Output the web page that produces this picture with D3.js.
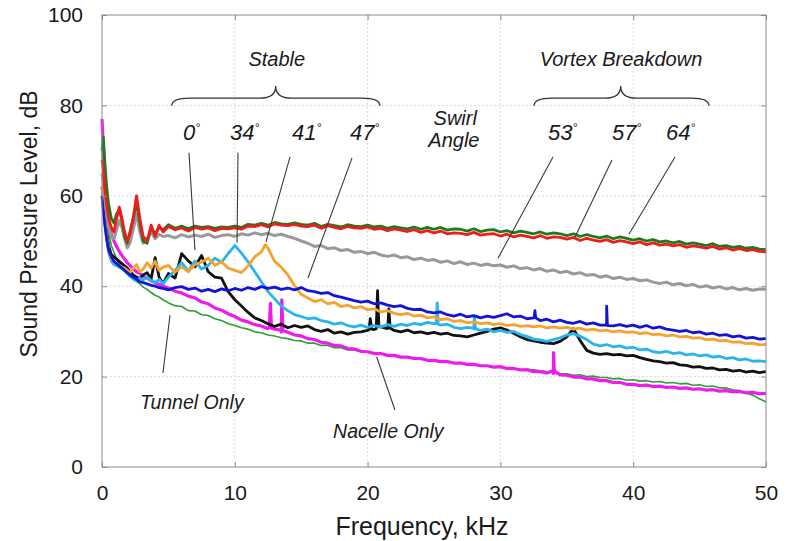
<!DOCTYPE html>
<head>
  <meta charset="UTF-8" />
  <title>Sound pressure spectra vs swirl angle</title>
  <script src="https://d3js.org/d3.v7.min.js"></script>
  <style>
    body {
      margin: 0;
      background: #fff;
    }
    text {
      font-family: "Liberation Sans", Arial, Helvetica, sans-serif;
      fill: #1a1a1a;
    }
  </style>
</head>

<body>
  <script>
    var width = 787,
      height = 541;
    var margin = { top: 15, right: 21, bottom: 74, left: 102 };

    // frequency bins, kHz (fine steps at low frequency, then 0.5 kHz)
    var freqLow = [0, 0.1, 0.2, 0.35, 0.5, 0.7, 0.9, 1.1, 1.3, 1.5, 1.7, 1.9, 2.1, 2.35, 2.6, 2.85, 3.1, 3.4, 3.7, 4.0, 4.3, 4.6];
    var freqMain = [
      5, 5.5, 6, 6.5, 7, 7.5, 8, 8.5, 9, 9.5,
      10, 10.5, 11, 11.5, 12, 12.5, 13, 13.5, 14, 14.5,
      15, 15.5, 16, 16.5, 17, 17.5, 18, 18.5, 19, 19.5,
      20, 20.5, 21, 21.5, 22, 22.5, 23, 23.5, 24, 24.5,
      25, 25.5, 26, 26.5, 27, 27.5, 28, 28.5, 29, 29.5,
      30, 30.5, 31, 31.5, 32, 32.5, 33, 33.5, 34, 34.5,
      35, 35.5, 36, 36.5, 37, 37.5, 38, 38.5, 39, 39.5,
      40, 40.5, 41, 41.5, 42, 42.5, 43, 43.5, 44, 44.5,
      45, 45.5, 46, 46.5, 47, 47.5, 48, 48.5, 49, 49.5,
      50
    ];

    // SPL, dB - one array per curve (low part + main part)
    var tunnelLow = [70, 65, 61, 56, 52, 49, 47.5, 46, 45, 44, 43.5, 43, 42.3, 41.5, 41, 40.5, 39.8, 39.3, 38.6, 38, 37.6, 37];
    var tunnelMain = [
      36.3, 35.7, 35.5, 34.6, 34.5, 33.7, 33.5, 32.8, 32.4, 31.7,
      31.3, 30.8, 30.5, 29.9, 29.7, 29.2, 29.0, 28.6, 28.4, 28.0,
      27.9, 27.4, 27.4, 26.9, 26.9, 26.4, 26.4, 25.9, 25.9, 25.5,
      25.5, 25.1, 25.1, 24.7, 24.7, 24.4, 24.4, 24.0, 24.1, 23.7,
      23.7, 23.4, 23.4, 23.0, 23.1, 22.7, 22.7, 22.4, 22.4, 22.1,
      22.1, 21.8, 21.8, 21.5, 21.6, 21.5, 21.3, 21.1, 21.0, 20.6,
      20.6, 20.3, 20.4, 20.0, 20.1, 19.8, 19.8, 19.5, 19.6, 19.2,
      19.3, 19.0, 19.1, 18.8, 18.9, 18.6, 18.7, 18.4, 18.5, 18.1,
      18.2, 17.8, 17.9, 17.5, 17.5, 17.1, 16.9, 16.4, 15.9, 15.1,
      14.4
    ];

    var nacelleLow = [77, 71, 65, 58.5, 54.5, 51.5, 50, 48.8, 47.7, 46.8, 46, 45.2, 44.6, 43.8, 43.2, 42.8, 42.3, 41.8, 41.2, 40.8, 40.4, 40.0];
    var nacelleMain = [
      39.6, 38.9, 38.5, 37.8, 37.4, 36.5, 36.1, 35.2, 34.7, 33.9,
      33.3, 32.5, 32.1, 31.5, 31.2, 30.6, 30.5, 29.9, 29.8, 29.2,
      29.0, 28.4, 28.2, 27.6, 27.4, 26.9, 26.8, 26.2, 26.1, 25.6,
      25.5, 25.1, 25.1, 24.7, 24.7, 24.3, 24.3, 24.0, 24.0, 23.6,
      23.6, 23.3, 23.3, 23.0, 23.0, 22.7, 22.7, 22.4, 22.4, 22.1,
      22.2, 21.8, 21.8, 21.5, 21.5, 21.1, 21.1, 20.8, 20.7, 20.4,
      20.3, 19.9, 19.9, 19.5, 19.5, 19.1, 19.1, 18.7, 18.7, 18.3,
      18.3, 18.0, 18.1, 17.8, 17.9, 17.6, 17.7, 17.4, 17.5, 17.2,
      17.3, 17.0, 17.1, 16.8, 16.9, 16.6, 16.7, 16.4, 16.5, 16.2,
      16.3
    ];
    var nacelleSpikes = [[12.6, 30.9], [12.68, 36.2], [12.76, 30.7], [13.46, 30.3], [13.54, 37.0], [13.62, 30.2], [33.94, 21.3], [34.0, 25.3], [34.06, 21.2]];

    var deg0Low = [62, 59, 56, 52, 49, 47, 46.5, 46, 45.5, 45, 44.5, 44, 43.3, 42.5, 42, 41.7, 42.5, 43, 41.6, 46.3, 42, 40.6];
    var deg0Main = [
      42.8, 41.8, 47.2, 45.6, 44.3, 46.8, 43.2, 42.0, 41.8, 38.8,
      37.0, 35.6, 34.2, 33.0, 32.4, 31.7, 31.1, 31.6, 30.8, 31.3,
      30.9, 31.2, 30.4, 30.0, 30.4, 29.6, 29.9, 29.4, 29.8, 29.9,
      30.2, 30.4, 31.0, 30.6, 30.2, 29.9, 30.3, 29.7, 29.9, 29.5,
      29.8, 29.4, 29.6, 29.1, 29.0, 28.8, 29.2, 29.6, 30.0, 30.5,
      30.8, 30.3, 29.6, 28.8, 28.2, 27.9, 27.6, 27.4, 27.3, 27.8,
      28.8, 30.6, 28.0, 25.8, 25.2, 24.9, 25.1, 24.8, 24.9, 24.6,
      24.7, 24.2, 23.8, 23.5, 23.3, 23.0, 23.1, 22.6, 22.5, 22.1,
      22.2, 21.8, 21.9, 21.5, 21.6, 21.2, 21.4, 21.0, 21.2, 20.9,
      21.1
    ];
    var deg0Spikes = [[20.1, 30.3], [20.2, 32.8], [20.3, 30.5], [20.65, 30.6], [20.75, 39.0], [20.85, 31.0], [21.52, 30.9], [21.6, 35.0], [21.7, 30.7]];

    var deg34Low = [60, 57, 54, 50.5, 47.5, 45.5, 44.8, 44.5, 44.2, 44, 43.4, 42.8, 42.2, 41.6, 41.3, 41.8, 41.4, 42, 41.2, 40.8, 41.5, 40.6];
    var deg34Main = [
      42.0, 43.5, 45.2, 43.3, 45.6, 43.8, 44.6, 46.2, 45.3, 47.2,
      49.0, 47.3, 45.4, 43.2, 41.0, 38.8, 37.2, 35.6, 34.6, 33.7,
      33.3, 32.8, 33.0, 32.4, 32.1, 31.6, 31.9, 31.3, 31.0, 31.4,
      30.9, 31.3, 31.0, 31.5, 31.1, 31.6, 31.3, 31.8, 31.5, 32.0,
      31.7, 31.4, 31.6, 30.9, 30.6, 30.9, 30.5, 30.2, 30.5, 29.9,
      30.2, 29.8, 30.0, 29.3, 28.9, 28.3, 28.1, 27.8, 28.2, 28.6,
      29.2, 29.5, 28.9, 28.2, 27.2, 26.8, 27.1, 26.6, 26.8, 26.3,
      26.5, 25.9, 26.1, 25.5, 25.3, 25.6, 25.1, 25.3, 24.8, 25.0,
      24.6, 24.8, 24.3, 24.5, 24.0, 24.2, 23.7, 23.9, 23.4, 23.5,
      23.3
    ];
    var deg34Spikes = [[25.16, 31.7], [25.24, 36.3], [25.32, 31.6], [27.96, 30.7], [28.04, 33.4], [28.12, 30.6]];

    var deg41Low = [62, 59, 55, 51, 48, 46, 45.5, 45, 44.5, 44.2, 44, 43.5, 43, 44, 44.8, 43.2, 43.8, 45.2, 44, 45.5, 43.5, 44.2];
    var deg41Main = [
      44.6, 43.1, 44.3, 43.2, 44.8, 45.3, 46.2, 44.6, 45.4, 44.0,
      43.5, 43.0, 44.5, 46.5, 47.6, 48.4, 45.5, 44.2, 42.5, 40.1,
      38.2, 37.4, 36.6, 37.0, 36.1, 36.4, 35.5, 35.8, 35.2, 35.5,
      34.8, 35.0, 34.3, 34.6, 34.0, 33.7, 34.0, 33.4, 33.6, 33.0,
      33.2, 32.6, 32.8, 32.2, 32.4, 31.9, 32.1, 31.7, 31.9, 31.5,
      31.7, 31.3, 31.5, 31.1, 31.3, 31.0, 31.2, 30.8, 31.0, 30.7,
      30.9, 30.5, 30.7, 30.3, 30.5, 30.1, 30.3, 29.9, 30.1, 29.8,
      29.9, 29.5, 29.7, 29.3, 29.4, 29.0, 29.2, 28.8, 28.9, 28.5,
      28.6, 28.2, 28.3, 27.9, 28.0, 27.6, 27.7, 27.3, 27.4, 27.0,
      27.1
    ];
    var deg41Spikes = [[12.3, 49.2]];

    var deg47Low = [60, 57, 54, 50.5, 48, 46.5, 45.5, 45, 44.5, 44, 43.5, 43, 42.5, 42, 41.5, 41, 40.8, 40.5, 40.2, 40, 39.7, 39.5];
    var deg47Main = [
      39.2, 39.7, 39.9, 39.3, 39.6, 38.9, 39.3, 38.8, 39.4, 39.0,
      39.5, 39.1, 39.7, 39.3, 39.9, 39.5, 39.8, 39.3, 39.6, 39.2,
      39.7, 39.0, 38.8, 38.4, 38.6, 37.9, 37.6, 37.2, 36.8, 36.5,
      36.7, 36.1, 36.3, 35.8, 35.5, 35.7, 35.1, 34.8, 34.9, 34.3,
      34.1, 34.3, 33.7, 33.4, 33.8, 33.2, 33.5, 33.0, 33.4, 33.1,
      33.5, 33.9, 33.2, 33.4, 32.8, 33.0, 32.4, 32.7, 32.1, 32.5,
      32.0, 31.8, 32.2, 31.6, 31.9, 31.4, 31.8, 31.2, 31.5, 31.1,
      31.4, 30.9, 31.3, 30.7, 31.0, 30.5, 30.3, 30.0, 30.2, 29.7,
      29.9, 29.4, 29.6, 29.1, 29.3, 28.8, 29.0, 28.5, 28.7, 28.3,
      28.4
    ];
    var deg47Spikes = [[32.54, 33.1], [32.6, 34.6], [32.66, 33.0], [37.94, 31.4], [38.0, 35.6], [38.06, 31.3]];

    var deg53Low = [65, 63, 60, 56, 53, 51, 50.5, 52.5, 54.5, 53, 50.5, 48.5, 49.5, 52.5, 56, 52, 49.5, 50.5, 52, 50.5, 51.5, 51];
    var deg53Main = [
      51.2, 50.7, 51.4, 50.9, 51.3, 51.0, 51.5, 50.8, 51.2, 51.4,
      51.0, 51.6, 51.3, 51.8, 51.4, 51.7, 51.2, 51.5, 51.0, 50.6,
      50.0, 49.5, 48.8, 49.0, 48.3, 48.5, 47.9, 48.1, 47.5, 47.7,
      47.2, 47.5, 46.9, 46.6, 46.9, 46.3, 46.5, 45.9, 46.2, 45.7,
      45.9, 45.3, 45.6, 45.0, 45.4, 44.8, 45.1, 44.6, 44.9, 44.5,
      44.7, 44.2, 44.5, 43.9, 44.1, 43.6, 43.9, 43.3, 43.6, 43.0,
      43.3, 42.7, 43.0, 42.4, 42.6, 42.0, 42.3, 41.7, 42.0, 41.5,
      41.7, 41.2, 41.4, 40.9, 40.6, 40.9, 40.3, 40.6, 40.1, 40.4,
      39.8, 40.1, 39.6, 39.9, 39.4, 39.7, 39.2, 39.5, 39.1, 39.4,
      39.3
    ];

    var deg57Low = [70, 73, 68, 62, 58, 55, 54, 56, 57, 54.5, 51, 49.5, 52, 55, 58.5, 54, 50, 49.5, 53, 51.5, 53, 52.5];
    var deg57Main = [
      53.6, 52.8, 53.3, 52.7, 53.3, 53.0, 53.2, 52.8, 53.1, 53.0,
      53.3, 53.0, 53.7, 53.5, 53.9, 53.5, 54.1, 53.8, 53.7, 54.0,
      53.7, 53.5, 53.9, 53.2, 53.7, 53.4, 53.1, 53.6, 53.3, 53.2,
      53.5, 53.1, 53.3, 52.8, 53.2, 52.9, 52.7, 53.1, 52.6, 53.0,
      52.6, 53.0, 52.4, 52.7, 52.6, 52.2, 52.7, 52.1, 52.4, 52.5,
      52.0, 52.3, 51.8, 52.2, 51.9, 51.6, 52.0, 51.5, 51.8, 51.6,
      51.2, 51.6, 51.0, 51.4, 51.0, 50.7, 51.1, 50.5, 50.9, 50.6,
      50.2, 50.5, 50.0, 50.3, 49.8, 50.0, 49.6, 49.9, 49.3, 49.6,
      49.3, 49.0, 49.4, 48.8, 49.0, 48.6, 48.8, 48.4, 48.6, 48.2,
      48.1
    ];

    var deg64Low = [68, 66, 62, 58, 55, 53, 52, 55, 57.5, 55, 52, 50, 51.5, 55, 60, 55, 51, 50, 53.5, 51, 53.5, 52];
    var deg64Main = [
      53.2, 52.5, 52.9, 52.2, 53.0, 52.6, 52.9, 52.3, 52.8, 52.7,
      52.9, 52.6, 53.3, 53.2, 53.6, 53.1, 53.8, 53.5, 53.4, 53.7,
      53.3, 53.2, 53.5, 52.8, 53.4, 53.0, 52.7, 53.2, 52.9, 52.8,
      53.1, 52.6, 52.8, 52.3, 52.7, 52.4, 52.1, 52.5, 51.9, 52.3,
      51.8, 52.2, 51.6, 51.8, 51.7, 51.4, 51.9, 51.3, 51.5, 51.6,
      51.1, 51.5, 50.9, 51.3, 51.0, 50.7, 51.2, 50.6, 50.9, 50.8,
      50.4, 50.8, 50.1, 50.6, 50.2, 49.9, 50.3, 49.7, 50.1, 49.8,
      49.4, 49.8, 49.2, 49.6, 49.1, 49.3, 48.9, 49.2, 48.6, 48.9,
      48.7, 48.4, 48.8, 48.2, 48.5, 48.0, 48.3, 47.9, 48.1, 47.7,
      47.6
    ];

    var xTicks = [0, 10, 20, 30, 40, 50];
    var yTicks = [0, 20, 40, 60, 80, 100];

    // draw order = list order (last on top)
    var series = [
      { name: "Tunnel Only", low: tunnelLow, main: tunnelMain, spikes: [], color: "#2e9e35", w: 1.6 },
      { name: "Nacelle Only", low: nacelleLow, main: nacelleMain, spikes: nacelleSpikes, color: "#ee1aee", w: 3.2 },
      { name: "0", low: deg0Low, main: deg0Main, spikes: deg0Spikes, color: "#111111", w: 2.8 },
      { name: "34", low: deg34Low, main: deg34Main, spikes: deg34Spikes, color: "#28b4ec", w: 2.8 },
      { name: "41", low: deg41Low, main: deg41Main, spikes: deg41Spikes, color: "#f7a22e", w: 2.8 },
      { name: "47", low: deg47Low, main: deg47Main, spikes: deg47Spikes, color: "#1414d8", w: 2.8 },
      { name: "53", low: deg53Low, main: deg53Main, spikes: [], color: "#999999", w: 3 },
      { name: "57", low: deg57Low, main: deg57Main, spikes: [], color: "#1d7a1d", w: 2.8 },
      { name: "64", low: deg64Low, main: deg64Main, spikes: [], color: "#ee1c1c", w: 2.8 }
    ];

    var freqAll = freqLow.concat(freqMain);

    var svg = d3
      .select("body")
      .append("svg")
      .attr("width", width)
      .attr("height", height);

    var x = d3
      .scaleLinear()
      .domain([0, 50])
      .range([margin.left, width - margin.right]);
    var y = d3
      .scaleLinear()
      .domain([0, 100])
      .range([height - margin.bottom, margin.top]);

    var x0 = x(0), x1 = x(50), y0 = y(0), y1 = y(100);

    // dotted grid
    var grid = svg.append("g");
    grid
      .selectAll("line.gx")
      .data(xTicks.slice(1, -1))
      .enter()
      .append("line")
      .attr("x1", d => x(d))
      .attr("x2", d => x(d))
      .attr("y1", y1)
      .attr("y2", y0)
      .attr("stroke", "#cfcfcf")
      .attr("stroke-dasharray", "1.5,2.5");
    grid
      .selectAll("line.gy")
      .data(yTicks.slice(1, -1))
      .enter()
      .append("line")
      .attr("x1", x0)
      .attr("x2", x1)
      .attr("y1", d => y(d))
      .attr("y2", d => y(d))
      .attr("stroke", "#cfcfcf")
      .attr("stroke-dasharray", "1.5,2.5");

    // curves
    var line = d3
      .line()
      .x(d => x(d[0]))
      .y(d => y(d[1]));

    series.forEach(function (s) {
      var vals = s.low.concat(s.main);
      var pts = freqAll.map((f, i) => [f, vals[i]]).concat(s.spikes);
      pts.sort((a, b) => a[0] - b[0]);
      svg
        .append("path")
        .datum(pts)
        .attr("d", line)
        .attr("fill", "none")
        .attr("stroke", s.color)
        .attr("stroke-width", s.w)
        .attr("stroke-linejoin", "round");
    });

    // frame + axes (ticks pointing inward)
    svg
      .append("rect")
      .attr("x", x0)
      .attr("y", y1)
      .attr("width", x1 - x0)
      .attr("height", y0 - y1)
      .attr("fill", "none")
      .attr("stroke", "#8c8c8c");

    function styleAxis(g) {
      g.select(".domain").remove();
      g.selectAll(".tick line").attr("stroke", "#8c8c8c");
      g.selectAll(".tick text")
        .style("font-family", '"Liberation Sans", Arial, sans-serif')
        .style("font-size", "21px")
        .attr("fill", "#1a1a1a");
    }

    svg
      .append("g")
      .attr("transform", "translate(0," + y0 + ")")
      .call(d3.axisBottom(x).tickValues(xTicks).tickSizeInner(-5).tickSizeOuter(0).tickPadding(18))
      .call(styleAxis);
    svg
      .append("g")
      .attr("transform", "translate(" + x0 + ",0)")
      .call(d3.axisLeft(y).tickValues(yTicks).tickSizeInner(-5).tickSizeOuter(0).tickPadding(19))
      .call(styleAxis);
    svg
      .append("g")
      .attr("transform", "translate(0," + y1 + ")")
      .call(d3.axisTop(x).tickValues(xTicks).tickSizeInner(-5).tickSizeOuter(0).tickFormat(""))
      .call(styleAxis);
    svg
      .append("g")
      .attr("transform", "translate(" + x1 + ",0)")
      .call(d3.axisRight(y).tickValues(yTicks).tickSizeInner(-5).tickSizeOuter(0).tickFormat(""))
      .call(styleAxis);

    // axis titles
    svg
      .append("text")
      .attr("x", (x0 + x1) / 2 - 12)
      .attr("y", 535)
      .attr("text-anchor", "middle")
      .style("font-size", "25px")
      .text("Frequency, kHz");
    svg
      .append("text")
      .attr("transform", "translate(37," + 224 + ") rotate(-90)")
      .attr("text-anchor", "middle")
      .style("font-size", "23px")
      .text("Sound Pressure Level, dB");

    // ---- annotations (anchored in data units: kHz, dB) ----
    var ann = svg.append("g");

    function brace(fA, fB, fMid) {
      var ya = y(79.9), yt = y(81.6), yp = y(84.3);
      var a = x(fA), b = x(fB), m = x(fMid);
      return (
        "M" + a + "," + ya +
        "Q" + a + "," + yt + " " + (a + 18) + "," + yt +
        "L" + (m - 16) + "," + yt +
        "Q" + m + "," + yt + " " + m + "," + yp +
        "Q" + m + "," + yt + " " + (m + 16) + "," + yt +
        "L" + (b - 18) + "," + yt +
        "Q" + b + "," + yt + " " + b + "," + ya
      );
    }
    ann.append("path").attr("d", brace(5.25, 20.93, 13.08))
      .attr("fill", "none").attr("stroke", "#333").attr("stroke-width", 1.3);
    ann.append("path").attr("d", brace(32.53, 45.71, 39.06))
      .attr("fill", "none").attr("stroke", "#333").attr("stroke-width", 1.3);

    function italic(txt, f, db, size, anchor) {
      return ann
        .append("text")
        .attr("x", x(f))
        .attr("y", y(db))
        .attr("text-anchor", anchor || "middle")
        .style("font-style", "italic")
        .style("font-size", size + "px")
        .text(txt);
    }
    italic("Stable", 13.16, 88.7, 20);
    italic("Vortex Breakdown", 39.08, 88.7, 20);
    italic("Swirl", 26.6, 75.7, 20);
    italic("Angle", 26.5, 70.9, 20);
    italic("Tunnel Only", 2.86, 12.8, 19.5, "start");
    italic("Nacelle Only", 17.4, 6.4, 19.5, "start");

    var angleNames = ["0", "34", "41", "47", "53", "57", "64"];
    var angleAt = [6.1, 9.64, 14.31, 18.67, 33.58, 38.4, 42.47];
    angleNames.forEach(function (a, i) {
      var t = italic(a, angleAt[i], 72.3, 22, "start");
      t.append("tspan").attr("dy", -8).style("font-size", "12px").text("°");
    });

    // leader lines
    var leaders = [
      [[6.55, 69.5], [7.0, 48.0]],
      [[10.24, 69.5], [10.17, 49.6]],
      [[14.16, 68.6], [12.35, 49.8]],
      [[18.83, 68.4], [15.51, 41.8]],
      [[33.96, 68.6], [29.82, 46.2]],
      [[38.4, 67.9], [35.62, 50.9]],
      [[43.15, 68.6], [39.68, 51.5]],
      [[4.59, 20.8], [5.12, 33.6]],
      [[20.68, 24.4], [22.06, 12.6]]
    ];
    ann
      .selectAll("line.lead")
      .data(leaders)
      .enter()
      .append("line")
      .attr("x1", d => x(d[0][0]))
      .attr("y1", d => y(d[0][1]))
      .attr("x2", d => x(d[1][0]))
      .attr("y2", d => y(d[1][1]))
      .attr("stroke", "#3a3a3a")
      .attr("stroke-width", 1.1);
  </script>
</body>
